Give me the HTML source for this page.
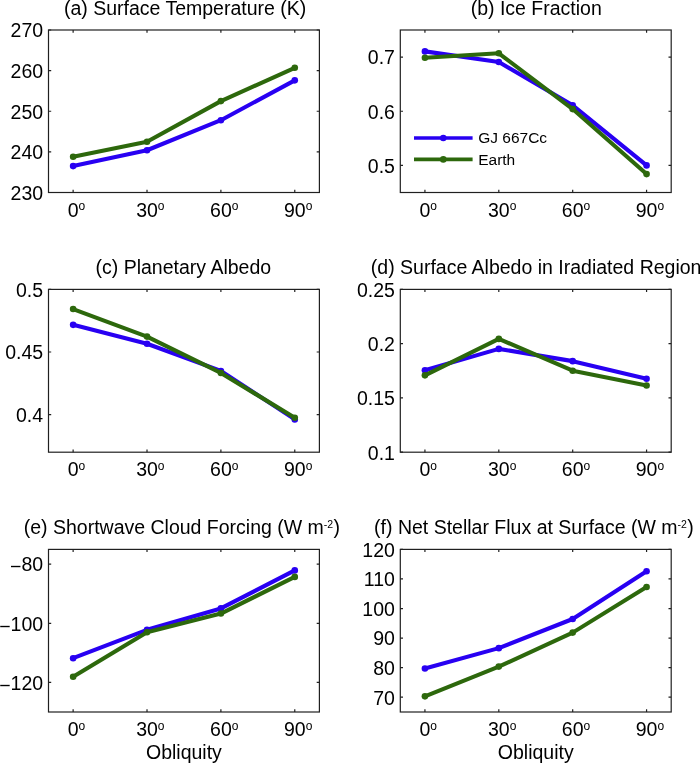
<!DOCTYPE html>
<html><head><meta charset="utf-8"><style>
html,body{margin:0;padding:0;background:#fff;}
body{width:700px;height:763px;overflow:hidden;}
svg{display:block;will-change:transform;}
.t{font-family:"Liberation Sans",sans-serif;font-size:19.5px;fill:#000;}
</style></head><body>
<svg width="700" height="763" viewBox="0 0 700 763">
<g>
<rect x="48.50" y="30.00" width="270.90" height="162.50" fill="none" stroke="#202020" stroke-width="1.2"/>
<text x="67.71" y="216.50" class="t">0<tspan dy="-6.3" font-size="12">o</tspan></text>
<text x="136.17" y="216.50" class="t">30<tspan dy="-6.3" font-size="12">o</tspan></text>
<text x="210.05" y="216.50" class="t">60<tspan dy="-6.3" font-size="12">o</tspan></text>
<text x="283.93" y="216.50" class="t">90<tspan dy="-6.3" font-size="12">o</tspan></text>
<text x="43.10" y="199.80" class="t" text-anchor="end">230</text>
<text x="43.10" y="159.18" class="t" text-anchor="end">240</text>
<text x="43.10" y="118.55" class="t" text-anchor="end">250</text>
<text x="43.10" y="77.92" class="t" text-anchor="end">260</text>
<text x="43.10" y="37.30" class="t" text-anchor="end">270</text>
<path d="M73.13 192.50V189.80M73.13 30.00V32.70M147.01 192.50V189.80M147.01 30.00V32.70M220.89 192.50V189.80M220.89 30.00V32.70M294.77 192.50V189.80M294.77 30.00V32.70M48.50 192.50H51.20M319.40 192.50H316.70M48.50 151.88H51.20M319.40 151.88H316.70M48.50 111.25H51.20M319.40 111.25H316.70M48.50 70.62H51.20M319.40 70.62H316.70M48.50 30.00H51.20M319.40 30.00H316.70" stroke="#202020" stroke-width="1.2" fill="none"/>
<text x="63.90" y="15" class="t">(a) Surface Temperature (K)</text>
<polyline points="73.13,166.09 147.01,150.25 220.89,120.19 294.77,80.37" fill="none" stroke="#2800f2" stroke-width="4.1" stroke-linejoin="round"/>
<circle cx="73.13" cy="166.09" r="3.3" fill="#2800f2"/>
<circle cx="147.01" cy="150.25" r="3.3" fill="#2800f2"/>
<circle cx="220.89" cy="120.19" r="3.3" fill="#2800f2"/>
<circle cx="294.77" cy="80.37" r="3.3" fill="#2800f2"/>
<polyline points="73.13,156.75 147.01,141.72 220.89,101.09 294.77,67.78" fill="none" stroke="#2d680c" stroke-width="4.1" stroke-linejoin="round"/>
<circle cx="73.13" cy="156.75" r="3.3" fill="#2d680c"/>
<circle cx="147.01" cy="141.72" r="3.3" fill="#2d680c"/>
<circle cx="220.89" cy="101.09" r="3.3" fill="#2d680c"/>
<circle cx="294.77" cy="67.78" r="3.3" fill="#2d680c"/>
</g>
<g>
<rect x="400.30" y="30.00" width="270.90" height="162.50" fill="none" stroke="#202020" stroke-width="1.2"/>
<text x="419.51" y="216.50" class="t">0<tspan dy="-6.3" font-size="12">o</tspan></text>
<text x="487.97" y="216.50" class="t">30<tspan dy="-6.3" font-size="12">o</tspan></text>
<text x="561.85" y="216.50" class="t">60<tspan dy="-6.3" font-size="12">o</tspan></text>
<text x="635.73" y="216.50" class="t">90<tspan dy="-6.3" font-size="12">o</tspan></text>
<text x="394.90" y="172.72" class="t" text-anchor="end">0.5</text>
<text x="394.90" y="118.55" class="t" text-anchor="end">0.6</text>
<text x="394.90" y="64.38" class="t" text-anchor="end">0.7</text>
<path d="M424.93 192.50V189.80M424.93 30.00V32.70M498.81 192.50V189.80M498.81 30.00V32.70M572.69 192.50V189.80M572.69 30.00V32.70M646.57 192.50V189.80M646.57 30.00V32.70M400.30 165.42H403.00M671.20 165.42H668.50M400.30 111.25H403.00M671.20 111.25H668.50M400.30 57.08H403.00M671.20 57.08H668.50" stroke="#202020" stroke-width="1.2" fill="none"/>
<text x="470.70" y="15" class="t">(b) Ice Fraction</text>
<polyline points="424.93,51.40 498.81,61.96 572.69,105.29 646.57,165.42" fill="none" stroke="#2800f2" stroke-width="4.1" stroke-linejoin="round"/>
<circle cx="424.93" cy="51.40" r="3.3" fill="#2800f2"/>
<circle cx="498.81" cy="61.96" r="3.3" fill="#2800f2"/>
<circle cx="572.69" cy="105.29" r="3.3" fill="#2800f2"/>
<circle cx="646.57" cy="165.42" r="3.3" fill="#2800f2"/>
<polyline points="424.93,57.79 498.81,53.29 572.69,109.08 646.57,174.08" fill="none" stroke="#2d680c" stroke-width="4.1" stroke-linejoin="round"/>
<circle cx="424.93" cy="57.79" r="3.3" fill="#2d680c"/>
<circle cx="498.81" cy="53.29" r="3.3" fill="#2d680c"/>
<circle cx="572.69" cy="109.08" r="3.3" fill="#2d680c"/>
<circle cx="646.57" cy="174.08" r="3.3" fill="#2d680c"/>
<path d="M414 138.0H472.6" stroke="#2800f2" stroke-width="3.7"/>
<circle cx="443.3" cy="138.0" r="3.3" fill="#2800f2"/>
<text x="478.2" y="143.40" class="t" style="font-size:15.5px">GJ 667Cc</text>
<path d="M414 159.4H472.6" stroke="#2d680c" stroke-width="3.7"/>
<circle cx="443.3" cy="159.4" r="3.3" fill="#2d680c"/>
<text x="478.2" y="164.80" class="t" style="font-size:15.5px">Earth</text>
</g>
<g>
<rect x="48.50" y="289.40" width="270.90" height="162.80" fill="none" stroke="#202020" stroke-width="1.2"/>
<text x="67.71" y="476.20" class="t">0<tspan dy="-6.3" font-size="12">o</tspan></text>
<text x="136.17" y="476.20" class="t">30<tspan dy="-6.3" font-size="12">o</tspan></text>
<text x="210.05" y="476.20" class="t">60<tspan dy="-6.3" font-size="12">o</tspan></text>
<text x="283.93" y="476.20" class="t">90<tspan dy="-6.3" font-size="12">o</tspan></text>
<text x="43.10" y="421.93" class="t" text-anchor="end">0.4</text>
<text x="43.10" y="359.32" class="t" text-anchor="end">0.45</text>
<text x="43.10" y="296.70" class="t" text-anchor="end">0.5</text>
<path d="M73.13 452.20V449.50M73.13 289.40V292.10M147.01 452.20V449.50M147.01 289.40V292.10M220.89 452.20V449.50M220.89 289.40V292.10M294.77 452.20V449.50M294.77 289.40V292.10M48.50 414.63H51.20M319.40 414.63H316.70M48.50 352.02H51.20M319.40 352.02H316.70M48.50 289.40H51.20M319.40 289.40H316.70" stroke="#202020" stroke-width="1.2" fill="none"/>
<text x="95.50" y="274" class="t">(c) Planetary Albedo</text>
<polyline points="73.13,324.84 147.01,343.75 220.89,370.93 294.77,419.39" fill="none" stroke="#2800f2" stroke-width="4.1" stroke-linejoin="round"/>
<circle cx="73.13" cy="324.84" r="3.3" fill="#2800f2"/>
<circle cx="147.01" cy="343.75" r="3.3" fill="#2800f2"/>
<circle cx="220.89" cy="370.93" r="3.3" fill="#2800f2"/>
<circle cx="294.77" cy="419.39" r="3.3" fill="#2800f2"/>
<polyline points="73.13,309.06 147.01,336.61 220.89,372.93 294.77,417.76" fill="none" stroke="#2d680c" stroke-width="4.1" stroke-linejoin="round"/>
<circle cx="73.13" cy="309.06" r="3.3" fill="#2d680c"/>
<circle cx="147.01" cy="336.61" r="3.3" fill="#2d680c"/>
<circle cx="220.89" cy="372.93" r="3.3" fill="#2d680c"/>
<circle cx="294.77" cy="417.76" r="3.3" fill="#2d680c"/>
</g>
<g>
<rect x="400.30" y="289.40" width="270.90" height="162.80" fill="none" stroke="#202020" stroke-width="1.2"/>
<text x="419.51" y="476.20" class="t">0<tspan dy="-6.3" font-size="12">o</tspan></text>
<text x="487.97" y="476.20" class="t">30<tspan dy="-6.3" font-size="12">o</tspan></text>
<text x="561.85" y="476.20" class="t">60<tspan dy="-6.3" font-size="12">o</tspan></text>
<text x="635.73" y="476.20" class="t">90<tspan dy="-6.3" font-size="12">o</tspan></text>
<text x="394.90" y="459.50" class="t" text-anchor="end">0.1</text>
<text x="394.90" y="405.23" class="t" text-anchor="end">0.15</text>
<text x="394.90" y="350.97" class="t" text-anchor="end">0.2</text>
<text x="394.90" y="296.70" class="t" text-anchor="end">0.25</text>
<path d="M424.93 452.20V449.50M424.93 289.40V292.10M498.81 452.20V449.50M498.81 289.40V292.10M572.69 452.20V449.50M572.69 289.40V292.10M646.57 452.20V449.50M646.57 289.40V292.10M400.30 452.20H403.00M671.20 452.20H668.50M400.30 397.93H403.00M671.20 397.93H668.50M400.30 343.67H403.00M671.20 343.67H668.50M400.30 289.40H403.00M671.20 289.40H668.50" stroke="#202020" stroke-width="1.2" fill="none"/>
<text x="370.80" y="274" class="t">(d) Surface Albedo in Iradiated Region</text>
<polyline points="424.93,370.26 498.81,348.88 572.69,361.14 646.57,378.72" fill="none" stroke="#2800f2" stroke-width="4.1" stroke-linejoin="round"/>
<circle cx="424.93" cy="370.26" r="3.3" fill="#2800f2"/>
<circle cx="498.81" cy="348.88" r="3.3" fill="#2800f2"/>
<circle cx="572.69" cy="361.14" r="3.3" fill="#2800f2"/>
<circle cx="646.57" cy="378.72" r="3.3" fill="#2800f2"/>
<polyline points="424.93,375.36 498.81,338.89 572.69,370.69 646.57,385.56" fill="none" stroke="#2d680c" stroke-width="4.1" stroke-linejoin="round"/>
<circle cx="424.93" cy="375.36" r="3.3" fill="#2d680c"/>
<circle cx="498.81" cy="338.89" r="3.3" fill="#2d680c"/>
<circle cx="572.69" cy="370.69" r="3.3" fill="#2d680c"/>
<circle cx="646.57" cy="385.56" r="3.3" fill="#2d680c"/>
</g>
<g>
<rect x="48.50" y="549.40" width="270.90" height="162.60" fill="none" stroke="#202020" stroke-width="1.2"/>
<text x="67.71" y="736.00" class="t">0<tspan dy="-6.3" font-size="12">o</tspan></text>
<text x="136.17" y="736.00" class="t">30<tspan dy="-6.3" font-size="12">o</tspan></text>
<text x="210.05" y="736.00" class="t">60<tspan dy="-6.3" font-size="12">o</tspan></text>
<text x="283.93" y="736.00" class="t">90<tspan dy="-6.3" font-size="12">o</tspan></text>
<text x="43.10" y="689.74" class="t" text-anchor="end"><tspan dy='2'>−</tspan><tspan dy='-2'>120</tspan></text>
<text x="43.10" y="630.61" class="t" text-anchor="end"><tspan dy='2'>−</tspan><tspan dy='-2'>100</tspan></text>
<text x="43.10" y="571.48" class="t" text-anchor="end"><tspan dy='2'>−</tspan><tspan dy='-2'>80</tspan></text>
<path d="M73.13 712.00V709.30M73.13 549.40V552.10M147.01 712.00V709.30M147.01 549.40V552.10M220.89 712.00V709.30M220.89 549.40V552.10M294.77 712.00V709.30M294.77 549.40V552.10M48.50 682.44H51.20M319.40 682.44H316.70M48.50 623.31H51.20M319.40 623.31H316.70M48.50 564.18H51.20M319.40 564.18H316.70" stroke="#202020" stroke-width="1.2" fill="none"/>
<text x="23.70" y="534" class="t">(e) Shortwave Cloud Forcing (W m<tspan dy='-6.2' font-size='10.5'>-2</tspan><tspan dy='6.2' dx='0.4'>)</tspan></text>
<polyline points="73.13,658.19 147.01,629.81 220.89,608.41 294.77,570.39" fill="none" stroke="#2800f2" stroke-width="4.1" stroke-linejoin="round"/>
<circle cx="73.13" cy="658.19" r="3.3" fill="#2800f2"/>
<circle cx="147.01" cy="629.81" r="3.3" fill="#2800f2"/>
<circle cx="220.89" cy="608.41" r="3.3" fill="#2800f2"/>
<circle cx="294.77" cy="570.39" r="3.3" fill="#2800f2"/>
<polyline points="73.13,676.82 147.01,632.18 220.89,613.55 294.77,576.89" fill="none" stroke="#2d680c" stroke-width="4.1" stroke-linejoin="round"/>
<circle cx="73.13" cy="676.82" r="3.3" fill="#2d680c"/>
<circle cx="147.01" cy="632.18" r="3.3" fill="#2d680c"/>
<circle cx="220.89" cy="613.55" r="3.3" fill="#2d680c"/>
<circle cx="294.77" cy="576.89" r="3.3" fill="#2d680c"/>
<text x="183.95" y="759" class="t" text-anchor="middle">Obliquity</text>
</g>
<g>
<rect x="400.30" y="549.40" width="270.90" height="162.60" fill="none" stroke="#202020" stroke-width="1.2"/>
<text x="419.51" y="736.00" class="t">0<tspan dy="-6.3" font-size="12">o</tspan></text>
<text x="487.97" y="736.00" class="t">30<tspan dy="-6.3" font-size="12">o</tspan></text>
<text x="561.85" y="736.00" class="t">60<tspan dy="-6.3" font-size="12">o</tspan></text>
<text x="635.73" y="736.00" class="t">90<tspan dy="-6.3" font-size="12">o</tspan></text>
<text x="394.90" y="704.52" class="t" text-anchor="end">70</text>
<text x="394.90" y="674.95" class="t" text-anchor="end">80</text>
<text x="394.90" y="645.39" class="t" text-anchor="end">90</text>
<text x="394.90" y="615.83" class="t" text-anchor="end">100</text>
<text x="394.90" y="586.26" class="t" text-anchor="end">110</text>
<text x="394.90" y="556.70" class="t" text-anchor="end">120</text>
<path d="M424.93 712.00V709.30M424.93 549.40V552.10M498.81 712.00V709.30M498.81 549.40V552.10M572.69 712.00V709.30M572.69 549.40V552.10M646.57 712.00V709.30M646.57 549.40V552.10M400.30 697.22H403.00M671.20 697.22H668.50M400.30 667.65H403.00M671.20 667.65H668.50M400.30 638.09H403.00M671.20 638.09H668.50M400.30 608.53H403.00M671.20 608.53H668.50M400.30 578.96H403.00M671.20 578.96H668.50M400.30 549.40H403.00M671.20 549.40H668.50" stroke="#202020" stroke-width="1.2" fill="none"/>
<text x="374.10" y="534" class="t">(f) Net Stellar Flux at Surface (W m<tspan dy='-6.2' font-size='10.5'>-2</tspan><tspan dy='6.2' dx='0.4'>)</tspan></text>
<polyline points="424.93,668.54 498.81,648.14 572.69,619.02 646.57,571.28" fill="none" stroke="#2800f2" stroke-width="4.1" stroke-linejoin="round"/>
<circle cx="424.93" cy="668.54" r="3.3" fill="#2800f2"/>
<circle cx="498.81" cy="648.14" r="3.3" fill="#2800f2"/>
<circle cx="572.69" cy="619.02" r="3.3" fill="#2800f2"/>
<circle cx="646.57" cy="571.28" r="3.3" fill="#2800f2"/>
<polyline points="424.93,696.33 498.81,666.62 572.69,632.62 646.57,586.95" fill="none" stroke="#2d680c" stroke-width="4.1" stroke-linejoin="round"/>
<circle cx="424.93" cy="696.33" r="3.3" fill="#2d680c"/>
<circle cx="498.81" cy="666.62" r="3.3" fill="#2d680c"/>
<circle cx="572.69" cy="632.62" r="3.3" fill="#2d680c"/>
<circle cx="646.57" cy="586.95" r="3.3" fill="#2d680c"/>
<text x="535.75" y="759" class="t" text-anchor="middle">Obliquity</text>
</g>
</svg>
</body></html>
